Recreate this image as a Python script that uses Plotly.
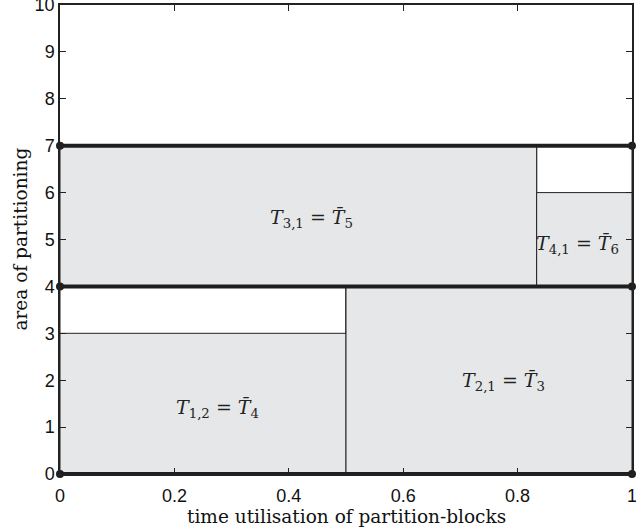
import plotly.graph_objects as go

# Data
block_x0 = [0.0, 0.5, 0.0, 5/6]
block_x1 = [0.5, 1.0, 5/6, 1.0]
block_y0 = [0, 0, 4, 4]
block_y1 = [3, 4, 7, 6]
slot_top = [4, 4, 7, 7]
block_labels = ["<i>T</i><sub>1,2</sub> = <i>T̄</i><sub>4</sub>",
                "<i>T</i><sub>2,1</sub> = <i>T̄</i><sub>3</sub>",
                "<i>T</i><sub>3,1</sub> = <i>T̄</i><sub>5</sub>",
                "<i>T</i><sub>4,1</sub> = <i>T̄</i><sub>6</sub>"]
label_x = [0.276, 0.775, 0.44, 0.904]
label_y = [1.4, 1.98, 5.45, 4.9]
partition_levels = [0, 4, 7]
x_ticks = [0, 0.2, 0.4, 0.6, 0.8, 1]
x_tick_text = ["0", "0.2", "0.4", "0.6", "0.8", "1"]
y_ticks = list(range(0, 11))
x_title = "time utilisation of partition-blocks"
y_title = "area of partitioning"

fig = go.Figure()

for x0, x1, y0, yt in zip(block_x0, block_x1, block_y0, slot_top):
    fig.add_trace(go.Scatter(x=[x0, x1, x1, x0, x0], y=[y0, y0, yt, yt, y0],
                             mode="lines", line=dict(color="#222", width=1),
                             fill="toself", fillcolor="white", hoverinfo="skip"))
for x0, x1, y0, y1 in zip(block_x0, block_x1, block_y0, block_y1):
    fig.add_trace(go.Scatter(x=[x0, x1, x1, x0, x0], y=[y0, y0, y1, y1, y0],
                             mode="lines", line=dict(color="#222", width=1),
                             fill="toself", fillcolor="#e6e7e8", hoverinfo="skip"))
for lv in partition_levels:
    fig.add_trace(go.Scatter(x=[0, 1], y=[lv, lv], mode="lines+markers",
                             line=dict(color="#1e1e1e", width=4),
                             marker=dict(color="#1e1e1e", size=8),
                             cliponaxis=False, hoverinfo="skip"))

for t, x, y in zip(block_labels, label_x, label_y):
    fig.add_annotation(x=x, y=y, text=t, showarrow=False,
                       font=dict(family="DejaVu Serif", size=19, color="#222"))

tickfont = dict(family="Liberation Sans", size=18, color="#111")
titlefont = dict(family="DejaVu Serif", size=18.5, color="#111")

fig.add_annotation(xref="paper", yref="paper", x=0.5, y=-0.0896,
                   xanchor="center", yanchor="middle", text=x_title,
                   showarrow=False, font=titlefont)
fig.add_annotation(xref="paper", yref="paper", x=-0.0699, y=0.5,
                   xanchor="center", yanchor="middle", text=y_title,
                   textangle=-90, showarrow=False, font=titlefont)

fig.update_layout(
    width=636, height=531, showlegend=False,
    paper_bgcolor="white", plot_bgcolor="white",
    margin=dict(l=60, r=4, t=5, b=57, autoexpand=False),
)
fig.update_xaxes(range=[0, 1], tickvals=x_ticks, ticktext=x_tick_text,
                 tickfont=tickfont, automargin=False, ticklabelstandoff=5,
                 ticklabeloverflow="allow",
                 ticks="inside", ticklen=6, tickcolor="#222", mirror="ticks",
                 showline=True, linecolor="#222", linewidth=1.5,
                 showgrid=False, zeroline=False)
fig.update_yaxes(range=[0, 10], tickvals=y_ticks, tickfont=tickfont,
                 automargin=False, ticklabeloverflow="allow",
                 ticks="inside", ticklen=6, tickcolor="#222", mirror="ticks",
                 showline=True, linecolor="#222", linewidth=1.5,
                 showgrid=False, zeroline=False)

fig.write_html("out.html", config={"displayModeBar": False},
               post_script="document.body.style.margin='0';document.body.style.overflow='hidden';")
